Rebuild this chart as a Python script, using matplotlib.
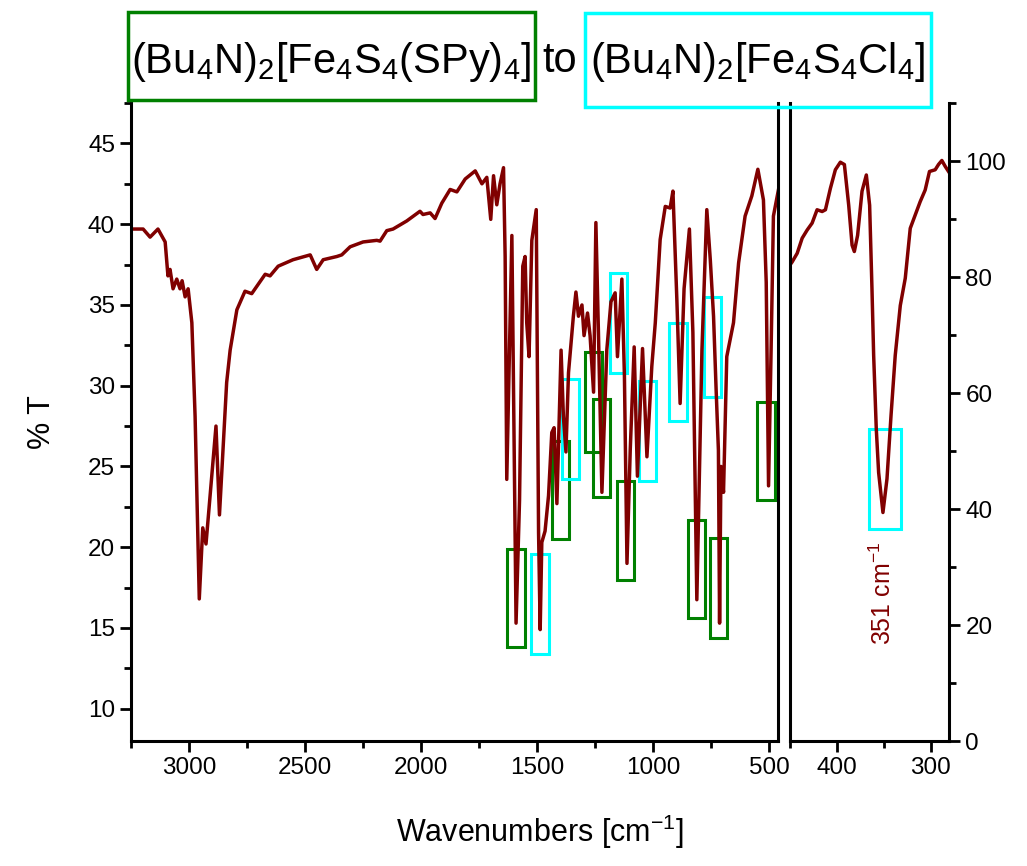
import numpy as np
import matplotlib
matplotlib.use("Agg")
import matplotlib.pyplot as plt
from matplotlib.patches import Rectangle
from matplotlib.ticker import MultipleLocator

plt.rcParams['font.family'] = ['Liberation Sans', 'DejaVu Sans']
plt.rcParams['mathtext.fontset'] = 'custom'
plt.rcParams['mathtext.rm'] = 'Liberation Sans'
plt.rcParams['mathtext.it'] = 'Liberation Sans'

# === Spectrum, 3250 - 460 cm-1 (left axis, %T)
wn_hi = [3250, 3198, 3168, 3134, 3103, 3091, 3082, 3069, 3053, 3039, 3030, 3017, 3004,
         2988, 2974, 2956, 2941, 2927, 2884, 2869, 2838, 2823, 2794, 2759, 2730, 2672,
         2651, 2616, 2552, 2478, 2450, 2422, 2363, 2342, 2306, 2250, 2191, 2177, 2148,
         2121, 2062, 2005, 1992, 1961, 1940, 1911, 1875, 1846, 1810, 1767, 1738, 1717,
         1700, 1688, 1674, 1660, 1645, 1638, 1631, 1609, 1591, 1576, 1562, 1552, 1545,
         1535, 1523, 1504, 1494, 1487, 1480, 1466, 1451, 1437, 1427, 1415, 1397, 1387,
         1376, 1365, 1344, 1333, 1322, 1307, 1298, 1283, 1272, 1257, 1247, 1236, 1221,
         1200, 1182, 1164, 1154, 1142, 1135, 1124, 1113, 1099, 1082, 1068, 1046, 1027,
         1006, 991, 970, 948, 927, 915, 898, 884, 867, 844, 829, 812, 790, 769, 754, 740,
         729, 719, 714, 708, 697, 683, 654, 632, 604, 575, 549, 525, 513, 503, 492, 482, 460]
t_hi = [39.7, 39.7, 39.2, 39.7, 38.9, 36.8, 37.2, 36.0, 36.6, 36.0, 36.5, 35.5, 36.0,
        33.9, 28.1, 16.8, 21.2, 20.2, 27.5, 22.0, 30.2, 32.2, 34.7, 35.85, 35.7, 36.9,
        36.8, 37.4, 37.8, 38.1, 37.2, 37.8, 38.0, 38.1, 38.6, 38.9, 39.0, 38.95, 39.6,
        39.7, 40.2, 40.8, 40.6, 40.7, 40.35, 41.3, 42.15, 42.0, 42.8, 43.3, 42.5, 42.9,
        40.3, 43.0, 41.2, 42.5, 43.5, 38.0, 24.2, 39.3, 15.3, 22.9, 37.4, 38.0, 33.9,
        31.8, 39.0, 40.9, 20.9, 14.9, 20.3, 21.0, 23.2, 27.1, 27.4, 22.7, 32.2, 28.1,
        25.9, 30.8, 34.3, 35.8, 34.3, 35.0, 33.1, 34.5, 33.1, 29.6, 40.1, 33.3, 23.4,
        32.2, 35.2, 35.75, 31.8, 34.9, 36.6, 30.6, 19.0, 26.0, 32.4, 24.4, 32.3, 25.6,
        31.2, 33.9, 39.05, 41.1, 41.0, 42.05, 35.3, 28.9, 36.0, 39.7, 33.3, 16.75, 32.2,
        40.9, 37.8, 34.3, 29.8, 26.0, 15.3, 25.0, 23.4, 31.8, 33.9, 37.6, 40.5, 41.75,
        43.4, 41.5, 36.4, 23.8, 32.2, 40.5, 42.15]

# === Far-IR spectrum, 450 - 280 cm-1 (right axis)
wn_lo = [449.5, 447.7, 442.3, 437.0, 431.7, 426.4, 421.1, 415.7, 412.2, 406.9, 401.6, 396.3,
         392.0, 387.4, 383.8, 381.4, 377.9, 373.2, 368.6, 365.1, 362.6, 360.8, 358.0, 355.5,
         350.9, 346.6, 342.3, 337.8, 332.4, 327.1, 321.8, 316.5, 311.2, 305.9, 301.3, 295.2,
         291.7, 288.1, 284.6, 281.0]
t_lo = [82.2, 82.6, 84.1, 86.7, 88.1, 89.3, 91.6, 91.3, 91.6, 95.3, 98.5, 99.8,
        99.4, 92.4, 85.5, 84.4, 87.2, 94.8, 97.6, 92.4, 78.0, 66.5, 53.8, 46.3,
        39.4, 45.2, 56.1, 66.5, 75.1, 79.8, 88.4, 90.7, 93.0, 95.0, 98.2, 98.5,
        99.4, 100.1, 99.1, 98.2]

# Marked bands: (high wn, low wn, bottom %T, top %T)
green_bands = [(1628, 1553, 13.8, 19.9), (1437, 1361, 20.5, 26.6), (1293, 1221, 25.9, 32.1),
               (1260, 1185, 23.1, 29.2), (1157, 1081, 18.0, 24.1), (848, 776, 15.6, 21.7),
               (757, 682, 14.4, 20.6), (551, 474, 22.9, 29.0)]
cyan_bands = [(1526, 1448, 13.4, 19.6), (1394, 1318, 24.2, 30.4), (1185, 1111, 30.8, 37.0),
              (1063, 987, 24.1, 30.3), (930, 855, 27.8, 33.9), (780, 709, 29.3, 35.5)]
cyan_bands_lo = [(365.4, 331.7, 36.6, 53.8)]

line_c = "#800000"
green = "#008000"
cyan = "#00FFFF"

fig = plt.figure(figsize=(10.27, 8.66), dpi=100)
ax1 = fig.add_axes([0.1276, 0.1443, 0.630, 0.7367])
ax2 = fig.add_axes([0.7692, 0.1443, 0.1553, 0.7367])

ax1.plot(wn_hi, t_hi, color=line_c, lw=2.5)
ax2.plot(wn_lo, t_lo, color=line_c, lw=2.5)

for x0, x1, y0, y1 in green_bands:
    ax1.add_patch(Rectangle((x1, y0), x0 - x1, y1 - y0, fill=False, ec=green, lw=2.2))
for x0, x1, y0, y1 in cyan_bands:
    ax1.add_patch(Rectangle((x1, y0), x0 - x1, y1 - y0, fill=False, ec=cyan, lw=2.2))
for x0, x1, y0, y1 in cyan_bands_lo:
    ax2.add_patch(Rectangle((x1, y0), x0 - x1, y1 - y0, fill=False, ec=cyan, lw=2.2))

ax1.set_xlim(3250, 462)
ax1.set_ylim(8, 47.5)
ax2.set_xlim(450, 280)
ax2.set_ylim(0, 110)

for ax in (ax1, ax2):
    ax.spines['top'].set_visible(False)
    for s in ax.spines.values():
        s.set_linewidth(2.2)
    ax.tick_params(which='major', length=8, width=2, labelsize=17.5, direction='out')
    ax.tick_params(which='minor', length=5, width=2, direction='out')

ax1.xaxis.set_major_locator(MultipleLocator(500))
ax1.xaxis.set_minor_locator(MultipleLocator(250))
ax1.yaxis.set_major_locator(MultipleLocator(5))
ax1.yaxis.set_minor_locator(MultipleLocator(2.5))
ax1.tick_params(which='both', right=False)

ax2.xaxis.set_major_locator(MultipleLocator(100))
ax2.xaxis.set_minor_locator(MultipleLocator(50))
ax2.yaxis.set_major_locator(MultipleLocator(20))
ax2.yaxis.set_minor_locator(MultipleLocator(10))
ax2.yaxis.tick_right()
ax2.tick_params(which='both', left=False)

ax1.set_ylabel("% T", fontsize=22, labelpad=22)
fig.text(0.526, 0.04, "Wavenumbers [cm$^{-1}$]", fontsize=22, ha='center', va='center')

ax2.text(351, 25.5, "351 cm$^{-1}$", color=line_c, fontsize=18, rotation=90,
         ha='center', va='center')

# Title with framed formulas
fig.patches.append(Rectangle((0.1246, 0.8845), 0.3963, 0.1016, transform=fig.transFigure,
                             fill=False, ec=green, lw=2.5))
fig.patches.append(Rectangle((0.5696, 0.8764), 0.3369, 0.1085, transform=fig.transFigure,
                             fill=False, ec=cyan, lw=2.5))
fig.text(0.3228, 0.928, "(Bu$_4$N)$_2$[Fe$_4$S$_4$(SPy)$_4$]", fontsize=30, ha='center', va='center')
fig.text(0.5453, 0.93, "to", fontsize=30, ha='center', va='center')
fig.text(0.738, 0.928, "(Bu$_4$N)$_2$[Fe$_4$S$_4$Cl$_4$]", fontsize=30, ha='center', va='center')

fig.savefig("out.png", dpi=100)
